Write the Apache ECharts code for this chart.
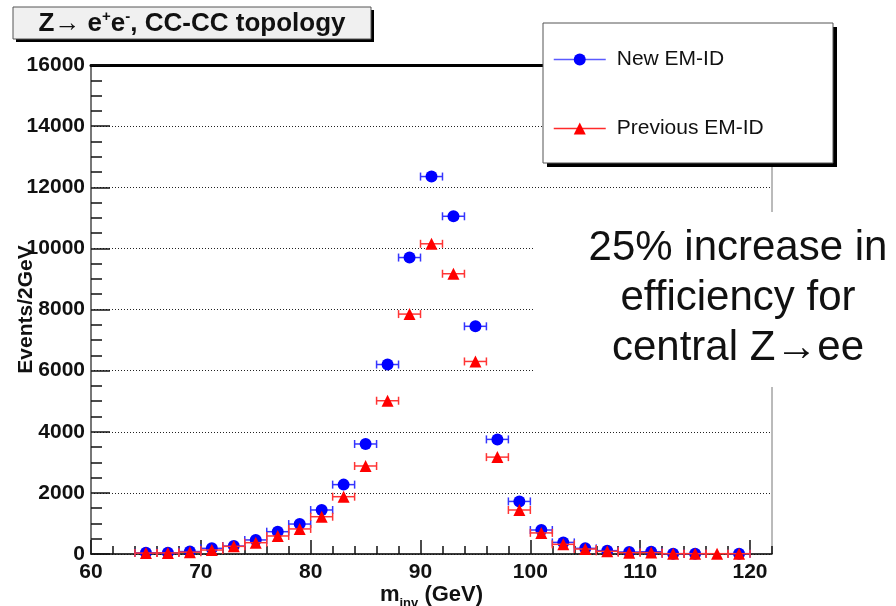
<!DOCTYPE html>
<html>
<head>
<meta charset="utf-8">
<script src="https://cdn.jsdelivr.net/npm/echarts@6/dist/echarts.min.js"></script>
<style>
html,body{margin:0;padding:0;background:#fff;}
#c{width:896px;height:606px;}
</style>
</head>
<body>
<div id="c"></div>
<script>
// ---- data ----
const massBins = [65,67,69,71,73,75,77,79,81,83,85,87,89,91,93,95,97,99,101,103,105,107,109,111,113,115,117,119];
const newEmId = [40,40,80,185,260,460,730,980,1440,2270,3600,6200,9700,12350,11050,7450,3750,1720,785,380,185,110,65,75,10,10,null,10];
const prevEmId = [30,35,60,130,250,370,590,820,1220,1875,2880,5015,7850,10150,9170,6300,3170,1440,690,317,163,87,44,45,10,10,10,10];
const binHalfWidth = 1;
const yTicks = [0,2000,4000,6000,8000,10000,12000,14000,16000];
const xTicks = [60,70,80,90,100,110,120];
const seriesNames = ['New EM-ID','Previous EM-ID'];

const FONT = '"Liberation Sans", Arial, Helvetica, sans-serif';

function pairs(xs, ys){ return xs.map((x,i)=>[x, ys[i]]); }
function errData(xs, ys){ return xs.map((x,i)=>[x, ys[i]]).filter(d=>d[1]!==null); }

function errRender(color){
  return function(params, api){
    const x = api.value(0), y = api.value(1);
    const l = api.coord([x - binHalfWidth, y]);
    const r = api.coord([x + binHalfWidth, y]);
    const cap = 4;
    const st = {stroke: color, lineWidth: 1.5};
    return {type:'group', children:[
      {type:'line', shape:{x1:l[0], y1:l[1], x2:r[0], y2:r[1]}, style:st},
      {type:'line', shape:{x1:l[0], y1:l[1]-cap, x2:l[0], y2:l[1]+cap}, style:st},
      {type:'line', shape:{x1:r[0], y1:r[1]-cap, x2:r[0], y2:r[1]+cap}, style:st}
    ]};
  };
}

const chart = echarts.init(document.getElementById('c'), null, {renderer:'canvas'});
const option = {
  animation: false,
  backgroundColor: '#fff',
  grid: {left: 91, right: 124, top: 65, bottom: 52, show: true, borderColor: '#777', borderWidth: 1, backgroundColor: 'transparent', outerBoundsMode: 'none'},
  xAxis: [
    {
      type: 'value', min: xTicks[0], max: 122, interval: 10, position: 'bottom',
      name: '{a|m}{s|inv}{a| (GeV)}', nameLocation: 'middle', nameGap: 26, nameMoveOverlap: false,
      nameTextStyle: {rich: {
        a: {fontFamily: FONT, fontWeight: 'bold', fontSize: 22, color: '#111', lineHeight: 30},
        s: {fontFamily: FONT, fontWeight: 'bold', fontSize: 13, color: '#111', lineHeight: 13, verticalAlign: 'bottom'}
      }},
      axisLine: {show: true, lineStyle: {color: '#111', width: 1.5}},
      axisTick: {show: true, inside: true, length: 14, lineStyle: {color: '#111', width: 1.5}},
      axisLabel: {show: true, margin: 8, fontFamily: FONT, fontWeight: 'bold', fontSize: 21, color: '#111',
        showMinLabel: true, showMaxLabel: false,
        formatter: v => (xTicks.indexOf(v) >= 0 ? String(v) : '')},
      splitLine: {show: false}
    },
    {
      type: 'value', min: 60, max: 122, interval: 2, position: 'bottom',
      axisLine: {show: false}, axisLabel: {show: false}, splitLine: {show: false},
      axisTick: {show: true, inside: true, length: 8, lineStyle: {color: '#111', width: 1.5}}
    },
    {
      type: 'value', min: 60, max: 122, position: 'top',
      axisLine: {show: true, lineStyle: {color: '#000', width: 3}},
      axisLabel: {show: false}, axisTick: {show: false}, splitLine: {show: false}
    }
  ],
  yAxis: {
    type: 'value', min: yTicks[0], max: yTicks[yTicks.length-1], interval: 2000,
    name: 'Events/2GeV', nameLocation: 'middle', nameGap: 54, nameMoveOverlap: false,
    nameTextStyle: {fontFamily: FONT, fontWeight: 'bold', fontSize: 21, color: '#111'},
    axisLine: {show: true, lineStyle: {color: '#777', width: 2}},
    axisTick: {show: true, inside: true, length: 19, lineStyle: {color: '#111', width: 1.5}},
    minorTick: {show: true, splitNumber: 4, length: 11, lineStyle: {color: '#111', width: 1.5}},
    axisLabel: {margin: 6, fontFamily: FONT, fontWeight: 'bold', fontSize: 21, color: '#111',
      showMinLabel: true, showMaxLabel: true, formatter: v => String(v)},
    splitLine: {show: true, lineStyle: {color: '#222', width: 1, type: [1, 2]}}
  },
  legend: {
    orient: 'vertical', left: 548, top: 44, itemWidth: 52, itemHeight: 15, itemGap: 48,
    selectedMode: false, z: 8,
    data: [
      {name: seriesNames[0], lineStyle: {color: '#5a5aff', width: 1.5, opacity: 1}},
      {name: seriesNames[1], lineStyle: {color: '#ff2a2a', width: 1.5, opacity: 1}}
    ],
    textStyle: {fontFamily: FONT, fontSize: 21, color: '#111', padding: [0,0,0,6]}
  },
  series: [
    {type: 'custom', name: 'newErr', z: 3, silent: true, renderItem: errRender('#3535ff'),
     data: errData(massBins, newEmId), encode: {x: 0, y: 1}},
    {type: 'line', name: seriesNames[0], z: 4, silent: true, data: pairs(massBins, newEmId),
     symbol: 'circle', symbolSize: 12, showSymbol: true, connectNulls: false,
     itemStyle: {color: '#0000ff'}, lineStyle: {width: 0, opacity: 0}, emphasis: {disabled: true}},
    {type: 'custom', name: 'prevErr', z: 5, silent: true, renderItem: errRender('#ff3535'),
     data: errData(massBins, prevEmId), encode: {x: 0, y: 1}},
    {type: 'line', name: seriesNames[1], z: 6, silent: true, data: pairs(massBins, prevEmId),
     symbol: 'triangle', symbolSize: 12, showSymbol: true, connectNulls: false,
     itemStyle: {color: '#ff0000'}, lineStyle: {width: 0, opacity: 0}, emphasis: {disabled: true}}
  ],
  graphic: [
    // legend box + shadow (below legend component)
    {type: 'rect', z: 6, shape: {x: 547, y: 27, width: 290, height: 140}, style: {fill: '#000'}},
    {type: 'rect', z: 7, shape: {x: 543, y: 23, width: 290, height: 140}, style: {fill: '#fff', stroke: '#555', lineWidth: 1}},
    // title box
    {type: 'rect', z: 10, shape: {x: 16, y: 10, width: 358, height: 32}, style: {fill: '#000'}},
    {type: 'rect', z: 11, shape: {x: 13, y: 7, width: 358, height: 32}, style: {fill: '#f0f0f0', stroke: '#555', lineWidth: 1}},
    {type: 'text', z: 12, x: 192, y: 24, style: {
      text: '{t|Z\u2192 e}{p|+}{t|e}{p|-}{t|, CC-CC topology}',
      align: 'center', verticalAlign: 'middle',
      rich: {
        t: {fontFamily: FONT, fontWeight: 'bold', fontSize: 26, fill: '#111', lineHeight: 30},
        p: {fontFamily: FONT, fontWeight: 'bold', fontSize: 15, fill: '#111', lineHeight: 15, verticalAlign: 'top'}
      }
    }},
    // annotation
    {type: 'rect', z: 10, shape: {x: 535, y: 212, width: 361, height: 175}, style: {fill: '#fff'}},
    {type: 'text', z: 11, x: 738, y: 298, style: {
      text: '25% increase in\nefficiency for\ncentral Z\u2192ee',
      fontFamily: FONT, fontSize: 42, lineHeight: 50, fill: '#111', align: 'center', verticalAlign: 'middle'
    }}
  ]
};
chart.setOption(option);
</script>
</body>
</html>
